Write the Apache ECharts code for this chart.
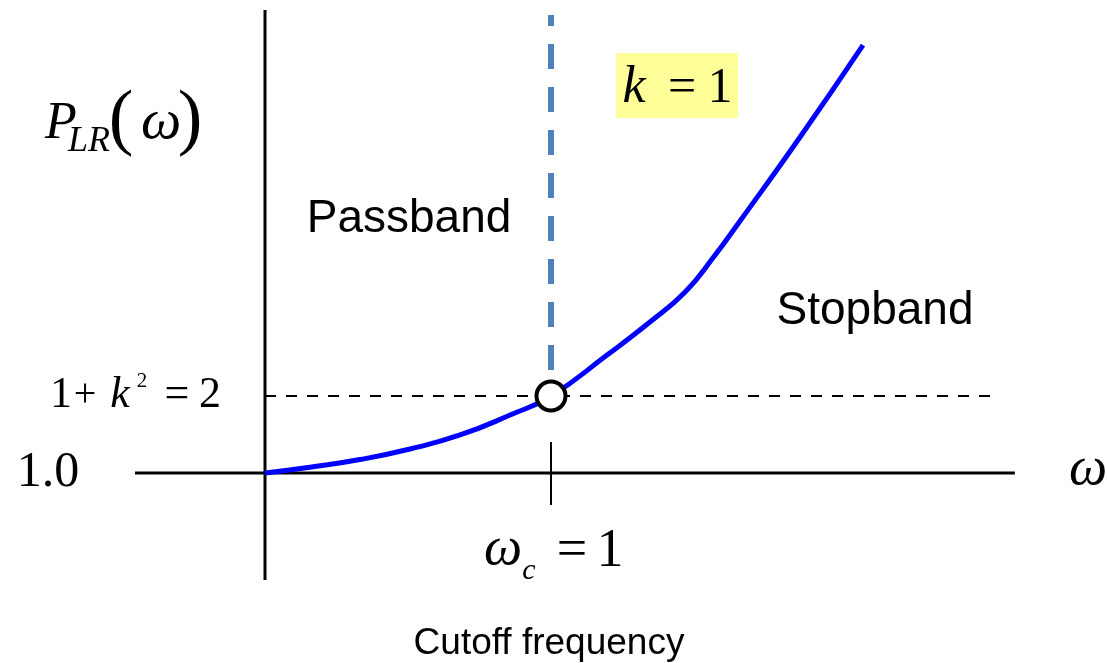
<!DOCTYPE html>
<html>
<head>
<meta charset="utf-8">
<script src="https://cdn.jsdelivr.net/npm/echarts@6/dist/echarts.min.js"></script>
<style>
  html, body { margin: 0; padding: 0; background: #fff; }
  #chart { width: 1107px; height: 663px; }
</style>
</head>
<body>
<div id="chart"></div>
<script>
// Loss ratio P_LR(omega) of a low-pass prototype, k = 1
const omega = [0, 0.157, 0.332, 0.507, 0.682, 0.857, 1.0, 1.196, 1.346, 1.469, 1.566, 1.661, 1.871, 2.091];
const plr   = [1.0, 1.074, 1.175, 1.312, 1.494, 1.753, 2.0, 2.532, 2.961, 3.351, 3.792, 4.273, 5.364, 6.558];

// Reference levels and cutoff
const baseLevel = 1.0;       // P_LR at omega = 0
const cutoffLevel = 2.0;     // 1 + k^2
const cutoffOmega = 1.0;     // omega_c

// Extent of the drawn axes and guide lines (data units)
const xAxisSpan = [-0.4545, 2.622];
const yAxisSpan = [-0.39, 7.013];
const levelLineEnd = 2.552;
const cutoffLineSpan = [2.338, 6.948];
const cutoffTickSpan = [0.584, 1.403];

// Text shown on the figure
const regionLabels = ['Passband', 'Stopband'];
const footLabel = 'Cutoff frequency';
const baseTick = '1.0';

const serif = '"Liberation Serif", "Times New Roman", serif';
const sans = '"Liberation Sans", Arial, sans-serif';

const chart = echarts.init(document.getElementById('chart'), null, { renderer: 'canvas' });

function seg(a, b) { return [a, b]; }
function txt(text, x, y, size, opts) {
  opts = opts || {};
  return {
    type: 'text', x: x, y: y, z: 20,
    style: {
      text: text,
      font: (opts.italic ? 'italic ' : '') + size + 'px ' + (opts.family || serif),
      fill: '#000',
      align: 'center',
      verticalAlign: 'middle'
    }
  };
}

const option = {
  animation: false,
  backgroundColor: '#fff',
  grid: { left: 0, right: 0, top: 0, bottom: 0 },
  xAxis: { type: 'value', min: -0.9266, max: 2.9441, show: false },
  yAxis: { type: 'value', min: -1.4675, max: 7.1429, show: false },
  series: [
    { // horizontal axis
      type: 'line', silent: true, symbol: 'none', z: 3,
      data: seg([xAxisSpan[0], baseLevel], [xAxisSpan[1], baseLevel]),
      lineStyle: { color: '#000', width: 3 }
    },
    { // vertical axis
      type: 'line', silent: true, symbol: 'none', z: 3,
      data: seg([0, yAxisSpan[0]], [0, yAxisSpan[1]]),
      lineStyle: { color: '#000', width: 3 }
    },
    { // 1 + k^2 level
      type: 'line', silent: true, symbol: 'none', z: 2,
      data: seg([0, cutoffLevel], [levelLineEnd, cutoffLevel]),
      lineStyle: { color: '#000', width: 2, type: [11, 10] }
    },
    { // cutoff divider
      type: 'line', silent: true, symbol: 'none', z: 2,
      data: seg([cutoffOmega, cutoffLineSpan[0]], [cutoffOmega, cutoffLineSpan[1]]),
      lineStyle: { color: '#4f81bd', width: 6, type: [25, 18] }
    },
    { // cutoff tick
      type: 'line', silent: true, symbol: 'none', z: 2,
      data: seg([cutoffOmega, cutoffTickSpan[0]], [cutoffOmega, cutoffTickSpan[1]]),
      lineStyle: { color: '#000', width: 2 }
    },
    { // response curve
      type: 'line', silent: true, symbol: 'none', z: 5,
      smooth: 0.5,
      data: omega.map((w, i) => [w, plr[i]]),
      lineStyle: { color: '#0000ff', width: 5 }
    },
    { // cutoff point
      type: 'scatter', silent: true, z: 8,
      symbol: 'circle', symbolSize: 29,
      data: [[cutoffOmega, cutoffLevel]],
      itemStyle: { color: '#fff', borderColor: '#000', borderWidth: 4, opacity: 1 }
    }
  ],
  graphic: [
    // P_LR(omega)
    txt('P', 61, 124, 52, { italic: true }),
    txt('LR', 89, 142, 36, { italic: true }),
    txt('(', 121, 122, 74),
    txt('\u03c9', 161, 123, 57, { italic: true }),
    txt(')', 190, 122, 74),
    // k = 1 highlighted
    { type: 'rect', z: 15, shape: { x: 616, y: 53, width: 122, height: 65 }, style: { fill: '#ffff99' } },
    txt('k', 634, 88, 52, { italic: true }),
    txt('=', 682, 89, 50),
    txt('1', 720, 89, 50),
    // 1 + k^2 = 2
    txt('1', 61, 395, 44),
    txt('+', 85, 395, 40),
    txt('k', 120, 395, 44, { italic: true }),
    txt('2', 142, 381, 21),
    txt('=', 177, 395, 44),
    txt('2', 210, 395, 44),
    // 1.0
    txt(baseTick, 48, 473, 50),
    // omega_c = 1
    txt('\u03c9', 503, 550, 54, { italic: true }),
    txt('c', 529, 571, 30, { italic: true }),
    txt('=', 572, 552, 54),
    txt('1', 610, 552, 54),
    // omega axis name
    txt('\u03c9', 1088, 470, 54, { italic: true }),
    // regions
    txt(regionLabels[0], 409, 219, 46, { family: sans }),
    txt(regionLabels[1], 875, 311, 46, { family: sans }),
    txt(footLabel, 549, 644, 37, { family: sans })
  ]
};

chart.setOption(option);
</script>
</body>
</html>
